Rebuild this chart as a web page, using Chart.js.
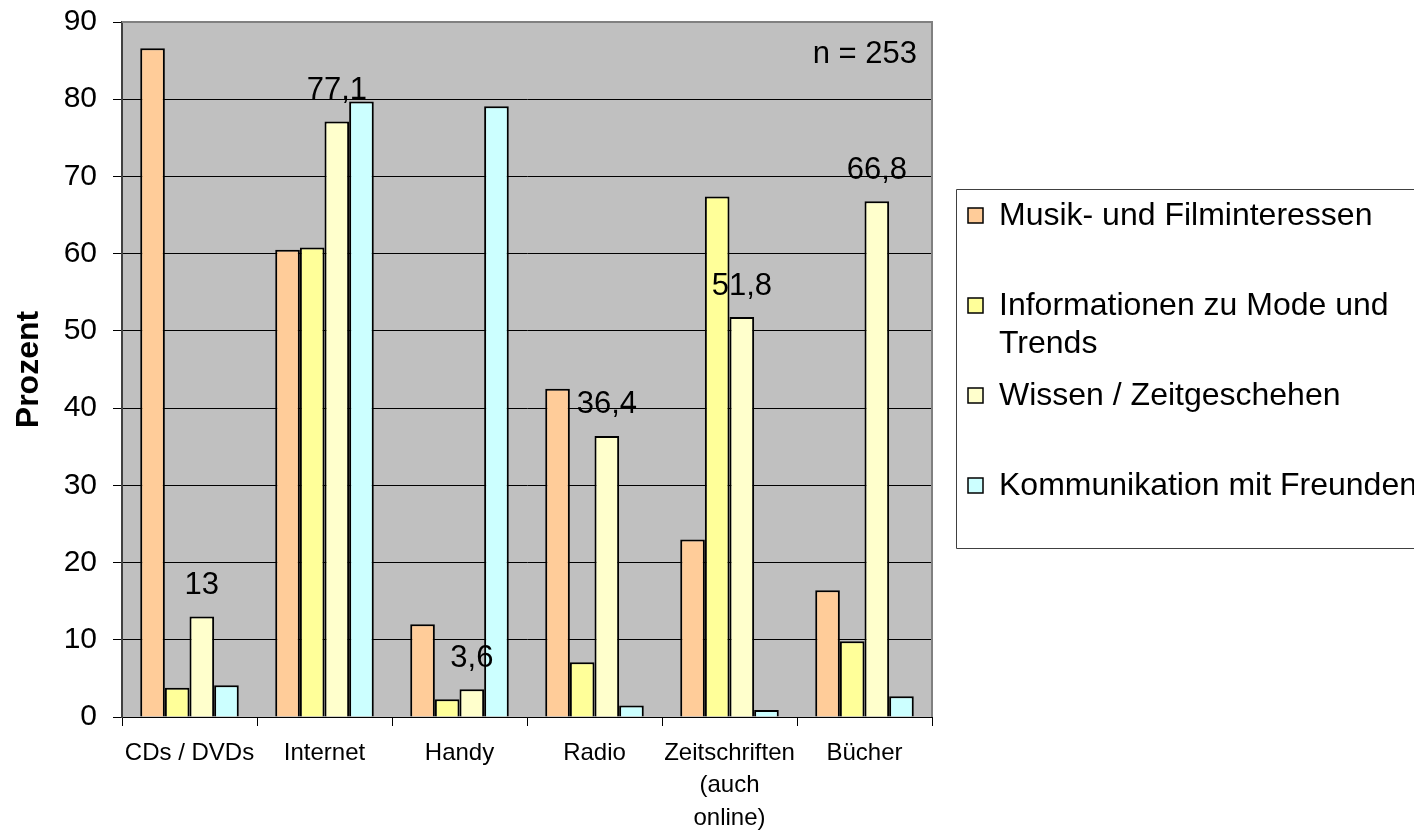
<!DOCTYPE html>
<html>
<head>
<meta charset="utf-8">
<script src="https://cdn.jsdelivr.net/npm/chart.js@4.4.1/dist/chart.umd.min.js"></script>
<style>
  html, body { margin: 0; padding: 0; background: #fff; }
</style>
</head>
<body>
<canvas id="chart" width="1414" height="833"></canvas>
<script>
// Kategorien und Werte (Prozent)
var categories = ["CDs / DVDs", "Internet", "Handy", "Radio", ["Zeitschriften", "(auch", "online)"], "Bücher"];
var musikFilm = [86.6, 60.5, 12.0, 42.5, 23.0, 16.4];
var modeTrends = [3.8, 60.8, 2.3, 7.1, 67.4, 9.8];
var wissen = [13, 77.1, 3.6, 36.4, 51.8, 66.8];
var kommunikation = [4.1, 79.7, 79.1, 1.5, 0.9, 2.7];
var seriesNames = ["Musik- und Filminteressen", "Informationen zu Mode und\nTrends", "Wissen / Zeitgeschehen", "Kommunikation mit Freunden"];
var seriesColors = ["#FFCC99", "#FFFF99", "#FFFFCC", "#CCFFFF"];
var yMax = 90;
var yStep = 10;
var sampleNote = "n = 253";

var FONT = "'Liberation Sans', Arial, sans-serif";

var plotBackground = {
  id: "plotBackground",
  beforeDraw: function (chart) {
    var a = chart.chartArea;
    var ctx = chart.ctx;
    ctx.save();
    ctx.fillStyle = "#C0C0C0";
    ctx.fillRect(a.left, a.top, a.right - a.left, a.bottom - a.top);
    ctx.restore();
  }
};

var extras = {
  id: "extras",
  afterDatasetsDraw: function (chart) {
    var ctx = chart.ctx;
    var a = chart.chartArea;
    ctx.save();
    // Rahmen oben und rechts
    ctx.strokeStyle = "#808080";
    ctx.lineWidth = 2;
    ctx.beginPath();
    ctx.moveTo(a.left, a.top);
    ctx.lineTo(a.right, a.top);
    ctx.lineTo(a.right, a.bottom);
    ctx.stroke();

    // Werte nur fuer "Wissen / Zeitgeschehen"
    var meta = chart.getDatasetMeta(2);
    ctx.fillStyle = "#000";
    ctx.font = "31px " + FONT;
    ctx.textAlign = "center";
    ctx.textBaseline = "middle";
    meta.data.forEach(function (bar, i) {
      var txt = String(wissen[i]).replace(".", ",");
      ctx.fillText(txt, bar.x, bar.y - 31);
    });

    // n = 253
    ctx.textAlign = "right";
    ctx.fillText(sampleNote, a.right - 15, a.top + 32);
    ctx.restore();
  },
  afterDraw: function (chart) {
    var ctx = chart.ctx;
    ctx.save();
    // Legendenrahmen
    ctx.strokeStyle = "#404040";
    ctx.lineWidth = 1;
    ctx.beginPath();
    ctx.moveTo(1420, 189.5);
    ctx.lineTo(956.5, 189.5);
    ctx.lineTo(956.5, 548.5);
    ctx.lineTo(1420, 548.5);
    ctx.stroke();

    ctx.font = "32px " + FONT;
    ctx.textAlign = "left";
    ctx.textBaseline = "middle";
    chart.data.datasets.forEach(function (ds, i) {
      var y = 216 + i * 90;
      ctx.fillStyle = ds.backgroundColor;
      ctx.fillRect(968, y - 8, 15, 15);
      ctx.strokeStyle = "#000";
      ctx.lineWidth = 1.5;
      ctx.strokeRect(968, y - 8, 15, 15);
      ctx.fillStyle = "#000";
      ds.label.split("\n").forEach(function (line, j) {
        ctx.fillText(line, 999, y + j * 38);
      });
    });
    ctx.restore();
  }
};

var datasets = [musikFilm, modeTrends, wissen, kommunikation].map(function (values, i) {
  return {
    label: seriesNames[i],
    data: values,
    backgroundColor: seriesColors[i],
    borderColor: "#000",
    borderWidth: 2,
    categoryPercentage: 0.73,
    barPercentage: 1.0
  };
});

new Chart(document.getElementById("chart").getContext("2d"), {
  type: "bar",
  data: { labels: categories, datasets: datasets },
  options: {
    responsive: false,
    animation: false,
    devicePixelRatio: 1,
    layout: { padding: { top: 22, right: 482, left: 0, bottom: 0 } },
    plugins: {
      legend: { display: false },
      tooltip: { enabled: false }
    },
    scales: {
      x: {
        afterFit: function (scale) { scale.height = 116; },
        grid: {
          offset: true,
          drawOnChartArea: false,
          drawTicks: true,
          tickLength: 9,
          color: "#000",
          lineWidth: 1
        },
        border: { color: "#000", width: 1 },
        ticks: {
          color: "#000",
          font: { family: FONT, size: 24, lineHeight: 1.35 },
          padding: 11,
          maxRotation: 0,
          autoSkip: false
        }
      },
      y: {
        min: 0,
        max: yMax,
        afterFit: function (scale) {
          scale.width = 122;
          scale.paddingTop = 0;
          scale.paddingBottom = 0;
        },
        grid: {
          color: "#000",
          lineWidth: 1,
          drawTicks: true,
          tickLength: 9,
          tickColor: "#000"
        },
        border: { color: "#404040", width: 2 },
        ticks: {
          stepSize: yStep,
          color: "#000",
          font: { family: FONT, size: 30 },
          padding: 16
        },
        title: {
          display: true,
          text: "Prozent",
          color: "#000",
          font: { family: FONT, size: 32, weight: "bold" },
          padding: { top: 10, bottom: 0 }
        }
      }
    }
  },
  plugins: [plotBackground, extras]
});
</script>
</body>
</html>
